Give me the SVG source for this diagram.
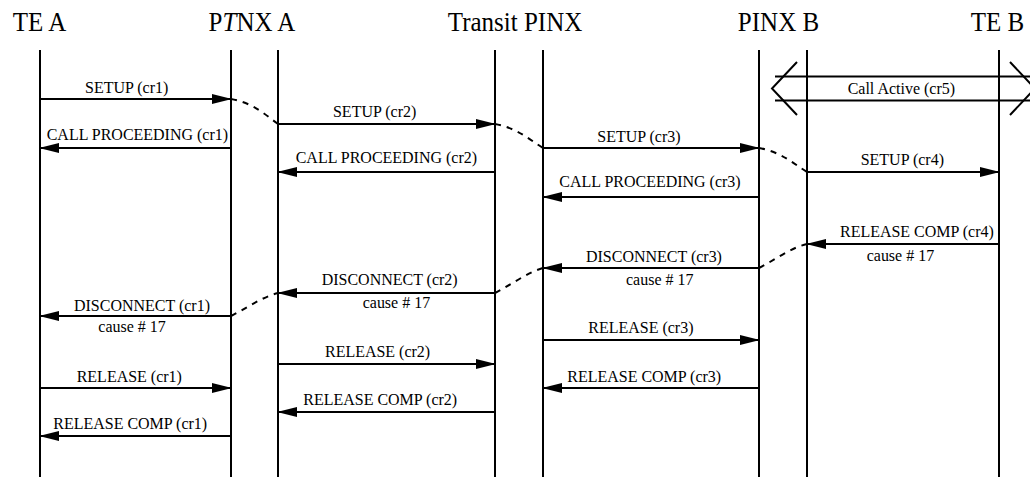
<svg xmlns="http://www.w3.org/2000/svg" width="1030" height="477" viewBox="0 0 1030 477">
<style>
.life{stroke:#000;stroke-width:2;fill:none}
.msg{stroke:#000;stroke-width:2;fill:none;marker-end:url(#ah)}
.dash{stroke:#000;stroke-width:2;fill:none;stroke-dasharray:6 6}
.hdr{font-family:"Liberation Serif","Times New Roman",serif;font-size:25px;fill:#000;text-anchor:middle}
.lbl{font-family:"Liberation Serif","Times New Roman",serif;font-size:16px;fill:#000}
</style>
<defs>
<marker id="ah" markerWidth="20" markerHeight="10" refX="19" refY="5" orient="auto" markerUnits="userSpaceOnUse">
<path d="M0,0 L20,5 L0,10 z" fill="#000"/>
</marker>
</defs>
<rect width="1030" height="477" fill="#fff"/>
<g id="lifelines">
<line class="life" x1="40" y1="50" x2="40" y2="477"/>
<line class="life" x1="231" y1="50" x2="231" y2="477"/>
<line class="life" x1="278" y1="50" x2="278" y2="477"/>
<line class="life" x1="495" y1="50" x2="495" y2="477"/>
<line class="life" x1="543" y1="50" x2="543" y2="477"/>
<line class="life" x1="759" y1="50" x2="759" y2="477"/>
<line class="life" x1="807" y1="50" x2="807" y2="477"/>
<line class="life" x1="999" y1="50" x2="999" y2="477"/>
</g>
<g id="headers" transform="scale(1,1.1)">
<text class="hdr" x="39.5" y="28.6">TE A</text>
<text class="hdr" x="252" y="28.6">P<tspan font-style="italic">T</tspan>NX A</text>
<text class="hdr" x="515" y="28.6">Transit PINX</text>
<text class="hdr" x="778.5" y="28.6">PINX B</text>
<text class="hdr" x="997.5" y="28.6">TE B</text>
</g>
<g id="call-active">
<line class="life" x1="775" y1="76.5" x2="1032" y2="76.5"/>
<line class="life" x1="775" y1="100.5" x2="1032" y2="100.5"/>
<polyline class="life" points="797,62 772,88.5 797,115"/>
<polyline class="life" points="1010,62 1035,88.5 1010,115"/>
</g>
<g id="connectors">
<line class="msg" x1="40" y1="99" x2="231" y2="99"/>
<line class="msg" x1="278" y1="124" x2="495" y2="124"/>
<line class="msg" x1="231" y1="148" x2="40" y2="148"/>
<line class="msg" x1="495" y1="172" x2="278" y2="172"/>
<line class="msg" x1="543" y1="148" x2="759" y2="148"/>
<line class="msg" x1="807" y1="172" x2="999" y2="172"/>
<line class="msg" x1="759" y1="197" x2="543" y2="197"/>
<line class="msg" x1="999" y1="244" x2="807" y2="244"/>
<line class="msg" x1="759" y1="268" x2="543" y2="268"/>
<line class="msg" x1="495" y1="293" x2="278" y2="293"/>
<line class="msg" x1="231" y1="316" x2="40" y2="316"/>
<line class="msg" x1="543" y1="340" x2="759" y2="340"/>
<line class="msg" x1="278" y1="364" x2="495" y2="364"/>
<line class="msg" x1="40" y1="388" x2="231" y2="388"/>
<line class="msg" x1="759" y1="388" x2="543" y2="388"/>
<line class="msg" x1="495" y1="412" x2="278" y2="412"/>
<line class="msg" x1="231" y1="436" x2="40" y2="436"/>
<path class="dash" d="M231,99 C252,103 262,112 278,124"/>
<path class="dash" d="M495,124 C516,128 526,137 543,148"/>
<path class="dash" d="M759,148 C780,152 790,161 807,172"/>
<path class="dash" d="M759,268 C775,260 790,248 807,244"/>
<path class="dash" d="M495,293 C511,285 526,273 543,268"/>
<path class="dash" d="M231,316 C247,308 262,297 278,293"/>
</g>
<g id="labels" transform="scale(1,1.1)">
<text class="lbl" x="85" y="84.8">SETUP (cr1)</text>
<text class="lbl" x="333" y="106.1">SETUP (cr2)</text>
<text class="lbl" x="46.7" y="127.3">CALL PROCEEDING (cr1)</text>
<text class="lbl" x="295.7" y="148.5">CALL PROCEEDING (cr2)</text>
<text class="lbl" x="597.3" y="129.4">SETUP (cr3)</text>
<text class="lbl" x="860.7" y="150">SETUP (cr4)</text>
<text class="lbl" x="847.7" y="85.7">Call Active (cr5)</text>
<text class="lbl" x="559.3" y="170.3">CALL PROCEEDING (cr3)</text>
<text class="lbl" x="840" y="215.2">RELEASE COMP (cr4)</text>
<text class="lbl" x="866.7" y="237">cause # 17</text>
<text class="lbl" x="586" y="237.9">DISCONNECT (cr3)</text>
<text class="lbl" x="626" y="259.1">cause # 17</text>
<text class="lbl" x="321.7" y="259.1">DISCONNECT (cr2)</text>
<text class="lbl" x="362.7" y="280.3">cause # 17</text>
<text class="lbl" x="74" y="282.5">DISCONNECT (cr1)</text>
<text class="lbl" x="98.3" y="302.1">cause # 17</text>
<text class="lbl" x="588.3" y="303">RELEASE (cr3)</text>
<text class="lbl" x="325" y="324.3">RELEASE (cr2)</text>
<text class="lbl" x="76.7" y="347">RELEASE (cr1)</text>
<text class="lbl" x="567.3" y="347">RELEASE COMP (cr3)</text>
<text class="lbl" x="303.3" y="368.2">RELEASE COMP (cr2)</text>
<text class="lbl" x="53.3" y="390">RELEASE COMP (cr1)</text>
</g>
</svg>
